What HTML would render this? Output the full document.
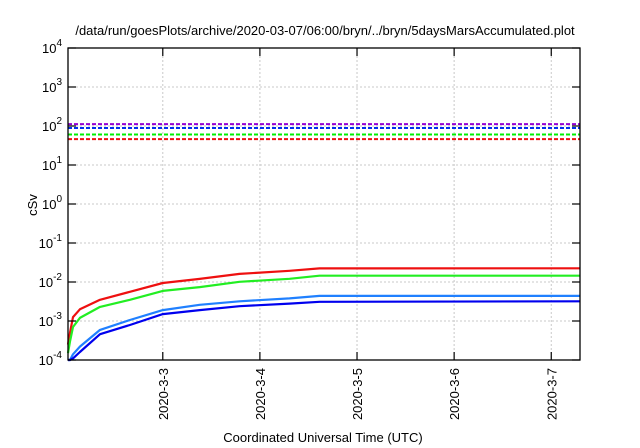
<!DOCTYPE html>
<html><head><meta charset="utf-8"><style>
html,body{margin:0;padding:0;background:#fff;}
svg{display:block;font-family:"Liberation Sans",sans-serif;}
</style></head><body>
<svg id="chart" width="640" height="448" viewBox="0 0 640 448" xmlns="http://www.w3.org/2000/svg">
<text x="325" y="35" font-size="13" text-anchor="middle" fill="#000">/data/run/goesPlots/archive/2020-03-07/06:00/bryn/../bryn/5daysMarsAccumulated.plot</text>
<g id="grid"></g>
<g id="series"></g>
<rect x="68" y="48" width="512" height="312" fill="none" stroke="#000" stroke-width="1.3"/>
<g id="axes"></g>
<text transform="translate(37,205) rotate(-90)" font-size="13" text-anchor="middle">cSv</text>
<text x="323" y="442" font-size="13" text-anchor="middle">Coordinated Universal Time (UTC)</text>
</svg>
<script>
// data
const times = [2.024, 2.045, 2.075, 2.147, 2.353, 2.661, 3.0, 3.38, 3.79, 4.305, 4.614, 7.296];
const redVals = [2.5e-4, 5e-4, 1.26e-3, 2.0e-3, 3.5e-3, 5.6e-3, 9.4e-3, 1.2e-2, 1.61e-2, 1.94e-2, 2.23e-2, 2.24e-2];
const greenVals = [1.5e-4, 3e-4, 7e-4, 1.2e-3, 2.3e-3, 3.5e-3, 5.9e-3, 7.4e-3, 1.01e-2, 1.21e-2, 1.45e-2, 1.45e-2];
const lightBlueVals = [1e-4, 1e-4, 1.4e-4, 2.2e-4, 5.9e-4, 1.06e-3, 1.9e-3, 2.6e-3, 3.2e-3, 3.8e-3, 4.4e-3, 4.4e-3];
const blueVals = [1e-4, 1e-4, 1.1e-4, 1.6e-4, 4.6e-4, 7.9e-4, 1.5e-3, 1.9e-3, 2.4e-3, 2.8e-3, 3.1e-3, 3.2e-3];
const limitVals = [112, 89, 60.5, 46];
const limitColors = ["#9400d3", "#0030ee", "#00ee00", "#ee1010"];
const xTickDays = [3, 4, 5, 6, 7];
const xTickLabels = ["2020-3-3", "2020-3-4", "2020-3-5", "2020-3-6", "2020-3-7"];
const yTickExps = [-4, -3, -2, -1, 0, 1, 2, 3, 4];

const L = 68, R = 580, T = 48, B = 360;
const xMin = 2.024, xMax = 7.296, yMinE = -4, yMaxE = 4;
const xs = d => L + (d - xMin) / (xMax - xMin) * (R - L);
const ys = v => B - (Math.log10(v) - yMinE) / (yMaxE - yMinE) * (B - T);
const NS = "http://www.w3.org/2000/svg";
function mk(tag, attrs, parent) {
  const e = document.createElementNS(NS, tag);
  for (const k in attrs) e.setAttribute(k, attrs[k]);
  parent.appendChild(e);
  return e;
}
const grid = document.getElementById('grid');
const axes = document.getElementById('axes');
const ser = document.getElementById('series');

yTickExps.forEach(e => {
  const y = ys(Math.pow(10, e));
  if (e > yMinE && e < yMaxE) {
    const g = mk('line', {x1: L, x2: R, y1: y, y2: y, stroke: '#c8c8c8', 'stroke-width': 1, 'stroke-dasharray': '2,2'}, grid);
    
    
  }
  const t1 = mk('line', {x1: L, x2: L + 8, y1: y, y2: y, stroke: '#000', 'stroke-width': 1.2}, axes);
  
  
  const t2 = mk('line', {x1: R - 8, x2: R, y1: y, y2: y, stroke: '#000', 'stroke-width': 1.2}, axes);
  
  
  const tx = mk('text', {x: 62, y: y + 5, 'font-size': 13, 'text-anchor': 'end'}, axes);
  
  
  tx.appendChild(document.createTextNode('10'));
  const sup = mk('tspan', {dy: -7, 'font-size': 10}, tx);
  sup.textContent = String(e);
});

xTickDays.forEach((d, i) => {
  const x = xs(d);
  const g = mk('line', {x1: x, x2: x, y1: T, y2: B, stroke: '#c8c8c8', 'stroke-width': 1, 'stroke-dasharray': '2,2'}, grid);
  
  
  const t1 = mk('line', {x1: x, x2: x, y1: B - 8, y2: B, stroke: '#000', 'stroke-width': 1.2}, axes);
  
  
  const t2 = mk('line', {x1: x, x2: x, y1: T, y2: T + 8, stroke: '#000', 'stroke-width': 1.2}, axes);
  
  
  const tx = mk('text', {transform: `translate(${x + 5},368) rotate(-90)`, 'font-size': 13, 'text-anchor': 'end'}, axes);
  
  
  tx.textContent = xTickLabels[i];
});

limitVals.forEach((v, i) => {
  const y = ys(v);
  const l = mk('line', {x1: L, x2: R, y1: y, y2: y, stroke: limitColors[i], 'stroke-width': 2, 'stroke-dasharray': '4,2'}, ser);
  
  
});

const seriesList = [[redVals, '#ee1010', 'red-series'], [greenVals, '#22ee22', 'green-series'], [lightBlueVals, '#2080ff', 'light-blue-series'], [blueVals, '#0000ee', 'blue-series']];
seriesList.forEach(s => {
  const pts = times.map((t, i) => xs(t).toFixed(1) + ',' + ys(s[0][i]).toFixed(1)).join(' ');
  const p = mk('polyline', {points: pts, fill: 'none', stroke: s[1], 'stroke-width': 2.2, 'stroke-linejoin': 'round'}, ser);
  
  
});
</script>
</body></html>
